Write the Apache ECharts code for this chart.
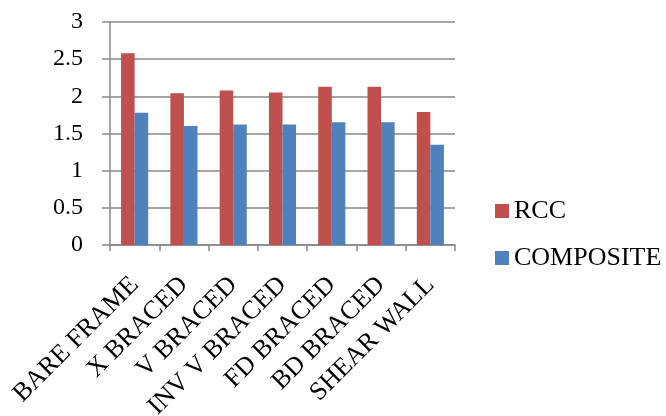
<!DOCTYPE html>
<html>
<head>
<meta charset="utf-8">
<script src="https://cdn.jsdelivr.net/npm/echarts@6/dist/echarts.min.js"></script>
<style>
  html, body { margin: 0; padding: 0; background: #fff; }
  #chart { width: 666px; height: 416px; }
</style>
</head>
<body>
<div id="chart"></div>
<script>
// Frame systems compared
var categories = ['BARE FRAME', 'X BRACED', 'V BRACED', 'INV V BRACED', 'FD BRACED', 'BD BRACED', 'SHEAR WALL'];
var rccValues = [2.58, 2.04, 2.08, 2.05, 2.13, 2.13, 1.79];
var compositeValues = [1.78, 1.60, 1.62, 1.62, 1.65, 1.65, 1.35];
var seriesNames = ['RCC', 'COMPOSITE'];

var FONT = '"Liberation Serif", "Times New Roman", serif';
var AXIS_GREY = '#888888';

var chart = echarts.init(document.getElementById('chart'), null, { renderer: 'canvas' });

chart.setOption({
  animation: false,
  backgroundColor: '#ffffff',
  grid: { left: 110, top: 22, right: 211, bottom: 171, containLabel: false, outerBoundsMode: 'none' },
  legend: {
    orient: 'vertical',
    left: 495,
    top: 198,
    padding: 0,
    itemWidth: 14,
    itemHeight: 14,
    itemGap: 21,
    icon: 'rect',
    data: seriesNames,
    textStyle: { fontFamily: FONT, fontSize: 26, color: '#000' }
  },
  xAxis: {
    type: 'category',
    data: categories,
    axisLine: { show: true, lineStyle: { color: AXIS_GREY, width: 1.5 } },
    axisTick: { show: true, alignWithLabel: false, length: 6, lineStyle: { color: AXIS_GREY, width: 1.5 } },
    axisLabel: {
      interval: 0,
      rotate: 45,
      margin: 36,
      fontFamily: FONT,
      fontSize: 26,
      color: '#000'
    },
    splitLine: { show: false }
  },
  yAxis: {
    type: 'value',
    min: 0,
    max: 3,
    interval: 0.5,
    axisLine: { show: true, lineStyle: { color: AXIS_GREY, width: 1.5 } },
    axisTick: { show: true, length: 8, lineStyle: { color: AXIS_GREY, width: 1.5 } },
    axisLabel: {
      margin: 27,
      fontFamily: FONT,
      fontSize: 24,
      color: '#000'
    },
    splitLine: { show: true, lineStyle: { color: AXIS_GREY, width: 1.5 } }
  },
  series: [
    {
      name: seriesNames[0],
      type: 'bar',
      data: rccValues,
      barGap: '0%',
      barCategoryGap: '45%',
      itemStyle: { color: '#C0504D' }
    },
    {
      name: seriesNames[1],
      type: 'bar',
      data: compositeValues,
      itemStyle: { color: '#4F81BD' }
    }
  ]
});
</script>
</body>
</html>
